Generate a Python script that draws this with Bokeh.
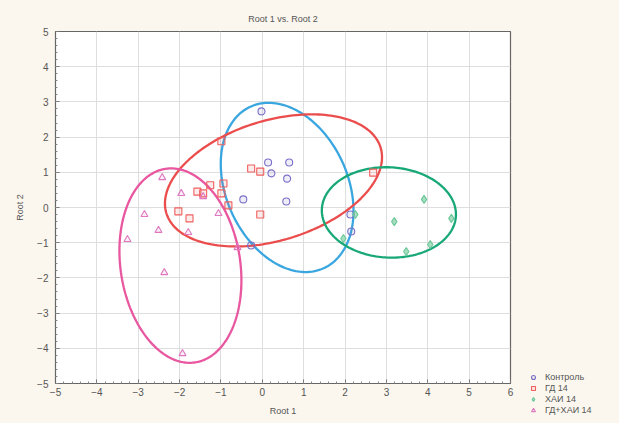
import re
import numpy as np
from bokeh.plotting import figure
from bokeh.models import Range1d, Legend, LegendItem, FixedTicker
from bokeh.embed import file_html
from bokeh.resources import INLINE

# ---- data ----
groups = ["Контроль", "ГД 14", "ХАИ 14", "ГД+ХАИ 14"]

ctrl_x = [-0.02, 0.14, 0.65, 0.22, 0.60, -0.46, 0.58, -0.27, 2.13, 2.15]
ctrl_y = [2.73, 1.28, 1.28, 0.97, 0.82, 0.23, 0.17, -1.08, -0.20, -0.68]

gd_x = [-0.99, -0.27, -0.05, -1.26, -0.94, -1.57, -1.43, -0.99, -0.82, -0.05, -2.03, -1.76, 2.68]
gd_y = [1.88, 1.11, 1.02, 0.63, 0.68, 0.45, 0.40, 0.40, 0.06, -0.20, -0.11, -0.31, 0.99]

hai_x = [2.25, 1.96, 3.91, 3.19, 3.48, 4.06, 4.57]
hai_y = [-0.20, -0.88, 0.23, -0.40, -1.25, -1.05, -0.31]

gdhai_x = [-2.42, -1.96, -1.43, -2.85, -2.51, -3.26, -1.79, -1.06, -0.60, -2.37, -1.93]
gdhai_y = [0.85, 0.40, 0.31, -0.20, -0.65, -0.91, -0.71, -0.17, -1.14, -1.85, -4.15]

# confidence ellipses: centre, first and second conjugate semi-axis vectors (data units)
ell_center = [(0.60, 0.57), (0.27, 0.77), (3.06, -0.14), (-1.98, -1.65)]
ell_u = [(-0.28, 2.39), (2.59, 0.93), (1.62, -0.10), (-0.36, 2.75)]
ell_v = [(1.58, -0.255), (-0.42, 1.63), (0.057, 1.28), (1.43, 0.26)]

x_ticks = list(range(-5, 7))
y_ticks = list(range(-5, 6))

pt_colors = ["#7a70c8", "#ef5f5f", "#6cc898", "#df78bf"]
ell_colors = ["#3aa6e0", "#eb4d4d", "#18a878", "#e8579f"]
markers = ["circle", "square", "diamond", "triangle"]

BG = "#fbf7ee"
FONT = "Liberation Sans"
TXT = "#555555"

p = figure(frame_width=455, frame_height=352, output_backend="svg", toolbar_location=None,
           x_range=Range1d(-5, 6), y_range=Range1d(-5, 5),
           min_border_left=55, min_border_right=109, min_border_top=31,
           min_border_bottom=40, background_fill_color="white",
           border_fill_color=BG, outline_line_color="#666666", outline_line_width=1.2)

p.title.text = "Root 1 vs. Root 2"
p.title.align = "center"
p.title.text_font = FONT
p.title.text_font_size = "9px"
p.title.text_font_style = "normal"
p.title.text_color = TXT
p.title.offset = 0
p.title.standoff = 16

for ax in (p.xaxis[0], p.yaxis[0]):
    ax.major_label_text_font = FONT
    ax.major_label_text_font_size = "10px"
    ax.major_label_text_color = TXT
    ax.axis_label_text_font = FONT
    ax.axis_label_text_font_size = "9px"
    ax.axis_label_text_font_style = "normal"
    ax.axis_label_text_color = TXT
    ax.axis_line_color = "#666666"
    ax.major_tick_in = 4
    ax.major_tick_out = 0
    ax.minor_tick_in = 2
    ax.minor_tick_out = 0
    ax.major_tick_line_color = "#777777"
    ax.minor_tick_line_color = "#888888"

p.xaxis[0].ticker = FixedTicker(ticks=x_ticks, minor_ticks=list(np.arange(-5, 6.01, 0.2)))
p.yaxis[0].ticker = FixedTicker(ticks=y_ticks, minor_ticks=list(np.arange(-5, 5.01, 0.2)))
p.xaxis[0].axis_label = "Root 1"
p.yaxis[0].axis_label = "Root 2"
p.xaxis[0].major_label_standoff = 4
p.yaxis[0].major_label_standoff = 7
p.xaxis[0].axis_label_standoff = 7
p.yaxis[0].axis_label_standoff = 9

p.xgrid.ticker = FixedTicker(ticks=x_ticks)
p.ygrid.ticker = FixedTicker(ticks=y_ticks)
p.grid.grid_line_color = "#dedede"
p.grid.grid_line_width = 1

# ellipses
t = np.linspace(0, 2 * np.pi, 200)
for c, u, v, col in zip(ell_center, ell_u, ell_v, ell_colors):
    ex = c[0] + u[0] * np.cos(t) + v[0] * np.sin(t)
    ey = c[1] + u[1] * np.cos(t) + v[1] * np.sin(t)
    p.line(ex, ey, line_color=col, line_width=2.3)

# points
items = []
data = [(ctrl_x, ctrl_y), (gd_x, gd_y), (hai_x, hai_y), (gdhai_x, gdhai_y)]
for (xs, ys), name, col, mk in zip(data, groups, pt_colors, markers):
    size = 7 if mk != "diamond" else 8
    r = p.scatter(xs, ys, marker=mk, size=size, line_color=col, fill_color=col,
                  fill_alpha=0.12 if mk != "diamond" else 0.6, line_width=1.1)
    items.append(LegendItem(label=name, renderers=[r]))

legend = Legend(items=items, location=(16, -34), background_fill_alpha=0,
                border_line_alpha=0, label_text_font=FONT, label_text_font_size="9px",
                label_text_color=TXT, glyph_width=10, glyph_height=10, spacing=1,
                label_height=10, padding=2, margin=0, label_standoff=7)
p.add_layout(legend, "right")

html = file_html(p, INLINE)
head, sep, rest = html.partition("</head>")
rest = re.sub(r"<body[^>]*>",
              '<body style="margin:0;overflow:hidden;background:%s">' % BG, rest, count=1)
open("out.html", "w").write(head + sep + rest)
